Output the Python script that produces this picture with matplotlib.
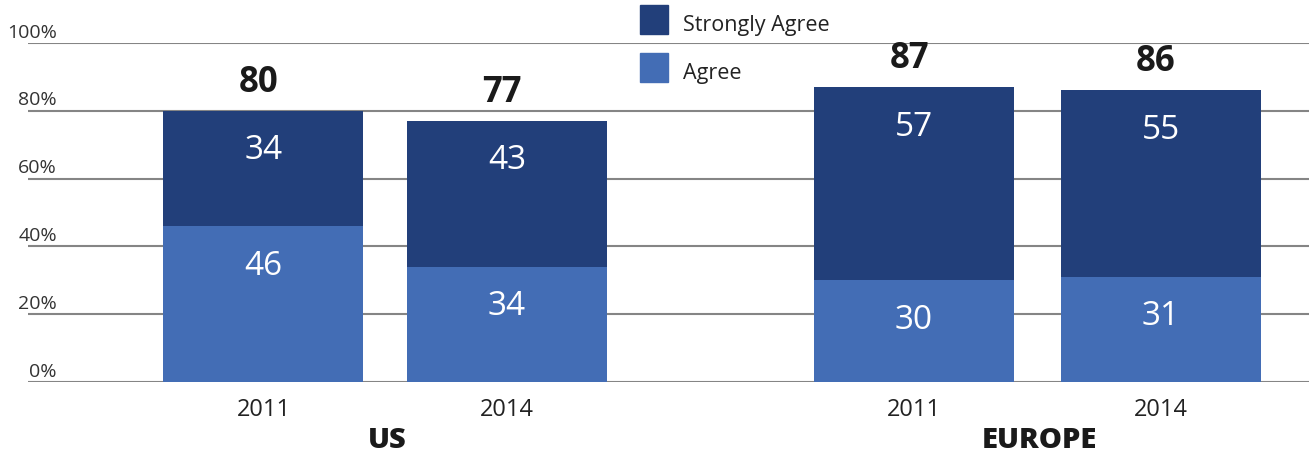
import matplotlib
matplotlib.use("Agg")
import matplotlib.pyplot as plt
from matplotlib.patches import Rectangle

plt.rcParams['font.family'] = ['Open Sans', 'DejaVu Sans']

# data
groups = ["US", "EUROPE"]
years = ["2011", "2014", "2011", "2014"]
agree = [46, 34, 30, 31]
strongly_agree = [34, 43, 57, 55]
totals = [80, 77, 87, 86]
yticks = [0, 20, 40, 60, 80, 100]

dark = "#223F7A"
light = "#436DB5"
grid_col = "#858585"

W, H = 1309, 458
fig = plt.figure(figsize=(W / 100, H / 100), dpi=100)
ax = fig.add_axes([28 / W, 1 - 382 / H, 1 - 28 / W, (382 - 43) / H])

x = [0, 0.994, 2.655, 3.662]
width = 0.816
ax.set_xlim(-0.961, 4.267)
ax.set_ylim(0, 100)

for t in yticks:
    ax.axhline(t, color=grid_col, lw=1.5, zorder=1)
    ax.text(0.0226, t + 0.4, f"{t}%", transform=ax.get_yaxis_transform(),
            ha="right", va="bottom", fontsize=14, color="#333333")

ax.bar(x, agree, width=width, color=light, zorder=2)
ax.bar(x, strongly_agree, width=width, bottom=agree, color=dark, zorder=2)

for xi, a, s, tot, yr in zip(x, agree, strongly_agree, totals, years):
    ax.text(xi, a - 11.8, str(a), ha="center", va="center", color="white", fontsize=24)
    ax.text(xi, a + s - 11.8, str(s), ha="center", va="center", color="white", fontsize=24)
    ax.text(xi - 0.02, a + s + 3.0, str(tot), ha="center", va="bottom", color="#1a1a1a",
            fontsize=25, fontweight="bold")
    ax.text(xi, -28 / 339, yr, transform=ax.get_xaxis_transform(), ha="center",
            va="center", fontsize=17, color="#222222")

# group names centred under each pair of bars
group_x = [(x[0] + x[1]) / 2, (x[2] + x[3]) / 2]
for gx, g in zip(group_x, groups):
    ax.text(gx + 0.01, -59 / 339, g, transform=ax.get_xaxis_transform(), ha="center",
            va="center", fontsize=21, fontweight="heavy", color="#1a1a1a")

ax.axis("off")

# legend
for (y0, col, label) in [(5, dark, "Strongly Agree"), (53, light, "Agree")]:
    fig.patches.append(Rectangle((640 / W, 1 - (y0 + 29) / H), 28 / W, 29 / H,
                                 transform=fig.transFigure, color=col, zorder=5))
    fig.text(683 / W, 1 - (y0 + 21) / H, label, ha="left", va="center",
             fontsize=15.5, color="#222222")

fig.savefig("out.png", dpi=100)
